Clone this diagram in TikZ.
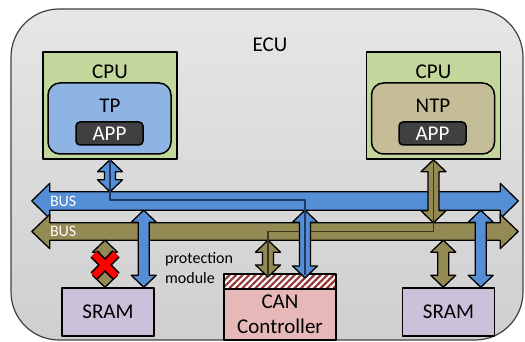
\documentclass[tikz,border=0pt]{standalone}
\usepackage{fontspec}
\setmainfont{Carlito}
\usetikzlibrary{calc,patterns.meta}

\definecolor{ecuTop}{HTML}{E6E6E6}
\definecolor{ecuBot}{HTML}{CFCFCF}
\definecolor{cpuGreen}{HTML}{C3D69B}
\definecolor{tpBlue}{HTML}{8EB4E3}
\definecolor{ntpTan}{HTML}{C4BD97}
\definecolor{appGray}{HTML}{404040}
\definecolor{busBlue}{HTML}{558ED5}
\definecolor{busOlive}{HTML}{948A54}
\definecolor{sramLav}{HTML}{CCC1DA}
\definecolor{canPink}{HTML}{E6B9B8}
\definecolor{hatchRed}{HTML}{953735}
\definecolor{lineBlue}{HTML}{1F3864}
\definecolor{lineOlive}{HTML}{3B3722}

\newcommand{\vlink}[3]{%
  \draw[linkarrow,fill=#3] let \p1=(#1), \p2=(#2) in
    (\x1,\y1) -- (\x1+12.5pt,\y1-12pt) -- (\x1+5.5pt,\y1-12pt) -- (\x1+5.5pt,\y2+12pt)
    -- (\x1+12.5pt,\y2+12pt) -- (\x1,\y2) -- (\x1-12.5pt,\y2+12pt) -- (\x1-5.5pt,\y2+12pt)
    -- (\x1-5.5pt,\y1-12pt) -- (\x1-12.5pt,\y1-12pt) -- cycle;}
\newcommand{\busarrow}[2]{%
  \draw[linkarrow,fill=#2] let \p1=(#1.west), \p2=(#1.east), \p3=(#1.north), \p4=(#1.south) in
    (\x1-18pt,\y1) -- (\x1,\y3+8.5pt) -- (\x1,\y3) -- (\x2,\y3) -- (\x2,\y3+8.5pt) -- (\x2+18pt,\y2)
    -- (\x2,\y4-8.5pt) -- (\x2,\y4) -- (\x1,\y4) -- (\x1,\y4-8.5pt) -- cycle;}

\begin{document}
\begin{tikzpicture}[x=1pt,y=-1pt,line join=round,
    txt/.style={font=\fontsize{21}{25}\selectfont,inner sep=0pt},
    smalltxt/.style={font=\fontsize{16}{20}\selectfont,inner sep=0pt},
    ecubox/.style={draw=black!75,line width=1.2pt,rounded corners=48pt,top color=ecuTop,bottom color=ecuBot},
    cpubox/.style={draw,line width=1.5pt,fill=cpuGreen},
    procbox/.style={draw,line width=1.5pt,rounded corners=12pt,minimum width=123,minimum height=71},
    appbox/.style={draw,line width=1.5pt,rounded corners=4pt,fill=appGray,text=white,minimum width=67,minimum height=23,txt},
    membox/.style={draw,line width=1.5pt,fill=sramLav,minimum width=92,minimum height=48,txt},
    busbody/.style={inner sep=0pt,minimum width=450,minimum height=18},
    linkarrow/.style={draw=black,line width=1.3pt},
    pathline/.style={line width=1.4pt}]
\useasboundingbox (0,0) rectangle (525,342);

\node[ecubox,minimum width=512,minimum height=331] (ecu) at (267,174.5) {};
\node[txt] (ecuLbl) at (270,45) {ECU};

\node[cpubox,minimum width=134,minimum height=107] (cpuL) at (110,105.5) {};
\node[txt] (cpuLLbl) at (110,72) {CPU};
\node[procbox,fill=tpBlue] (tp) at (109.5,118.5) {};
\node[txt] (tpLbl) at (110,106) {TP};
\node[appbox] (appL) at (109.5,133.5) {APP};

\node[cpubox,minimum width=134,minimum height=107] (cpuR) at (433.5,105.5) {};
\node[txt] (cpuRLbl) at (433.5,72) {CPU};
\node[procbox,fill=ntpTan] (ntp) at (433,118.5) {};
\node[txt] (ntpLbl) at (433,106) {NTP};
\node[appbox] (appR) at (432.5,133.5) {APP};

\node[busbody] (busB) at (275,201) {};
\node[busbody,minimum height=17] (busO) at (275,231.5) {};
\busarrow{busB}{busBlue}
\busarrow{busO}{busOlive}
\node[smalltxt,text=white,anchor=west] (busBLbl) at (busB.west) {BUS};
\node[smalltxt,text=white,anchor=west] (busOLbl) at (busO.west) {BUS};

\node[membox] (sramL) at (108,312) {SRAM};
\node[membox] (sramR) at (448.5,312) {SRAM};
\node[draw,line width=1.5pt,fill=canPink,minimum width=112,minimum height=51,txt,align=center] (can) at (280,314.5) {CAN\\Controller};
\node[draw,line width=1.5pt,preaction={fill=white},pattern={Lines[angle=45,distance=4.6pt,line width=2.2pt]},pattern color=hatchRed,minimum width=112,minimum height=15] (hatch) at (280,281.5) {};
\node[smalltxt,anchor=west,align=left] (protLbl) at (165,268) {protection\\module};

\coordinate (pO) at ($(hatch.north)+(-12,4)$);
\coordinate (pB) at ($(hatch.north)+(25,5)$);
\coordinate (pL) at ($(sramL.north east)+(-11,0)$);
\coordinate (pR1) at ($(sramR.north west)+(41.5,0)$);
\coordinate (pR2) at ($(sramR.north east)+(-14.5,0)$);
\coordinate (cross) at (105,265);

\vlink{cpuL.south}{busB.north}{busBlue}
\vlink{cpuR.south}{busO.north}{busOlive}
\vlink{busO.south -| pO}{pO}{busOlive}
\draw[pathline,lineOlive] (cpuR.south) -- (cpuR.south |- busO.center) -- (pO |- busO.center) -- ($(pO)+(0,-2)$);
\vlink{busB.south -| pB}{pB}{busBlue}
\draw[pathline,lineBlue] (cpuL.south) -- ($(cpuL.south |- busB.center)+(0,-1)$) -- ($(pB |- busB.center)+(0,-1)$) -- ($(pB)+(0,-3)$);
\vlink{busB.south -| pL}{pL}{busBlue}
\vlink{busO.south -| cross}{cross |- sramL.north}{busOlive}
\vlink{busO.south -| pR1}{pR1}{busOlive}
\vlink{busB.south -| pR2}{pR2}{busBlue}

\draw[line width=10pt,black] ($(cross)+(-11,-11)$) -- ($(cross)+(11,11)$) ($(cross)+(11,-11)$) -- ($(cross)+(-11,11)$);
\draw[line width=7pt,red] ($(cross)+(-11,-11)$) -- ($(cross)+(11,11)$) ($(cross)+(11,-11)$) -- ($(cross)+(-11,11)$);
\end{tikzpicture}
\end{document}
